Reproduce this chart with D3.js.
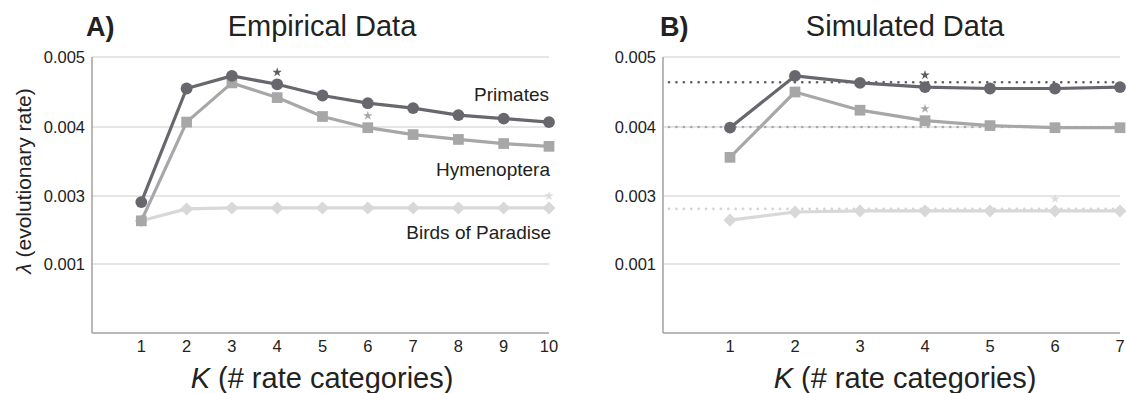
<!DOCTYPE html>
<html><head><meta charset="utf-8">
<script src="https://cdn.jsdelivr.net/npm/d3@7"></script>
<style>body{margin:0;background:#fff}text{font-family:"Liberation Sans",Arial,sans-serif;fill:#222}</style>
</head><body>
<script>
// ---- data ----
const yTickVals = [0.001, 0.003, 0.004, 0.005];
const yTickLabels = ["0.001", "0.003", "0.004", "0.005"];

const kA = [1,2,3,4,5,6,7,8,9,10];
const primatesA = [0.00282,0.00455,0.00473,0.00461,0.00445,0.00434,0.00427,0.00417,0.00412,0.00407];
const hymenA    = [0.00227,0.00407,0.00463,0.00442,0.00415,0.00399,0.00389,0.00382,0.00376,0.00372];
const birdsA    = [0.00227,0.00262,0.00265,0.00265,0.00265,0.00265,0.00265,0.00265,0.00265,0.00265];
const starsA = [{series:"primates",k:4},{series:"hymen",k:6},{series:"birds",k:10}];

const kB = [1,2,3,4,5,6,7];
const primatesB = [0.00399,0.00473,0.00463,0.00457,0.00455,0.00455,0.00457];
const hymenB    = [0.00356,0.00450,0.00424,0.00409,0.00402,0.00399,0.00399];
const birdsB    = [0.00229,0.00253,0.00256,0.00256,0.00256,0.00256,0.00256];
const refB = {primates:0.00464, hymen:0.00400, birds:0.00262};
const starsB = [{series:"primates",k:4},{series:"hymen",k:4},{series:"birds",k:6}];

const colors = {primates:"#67676d", hymen:"#a7a7a7", birds:"#d8d8d8"};
const starColors = {primates:"#5e5e64", hymen:"#a7a7a7", birds:"#dcdcdc"};

const W = 1126, H = 393;
const svg = d3.select("body").append("svg").attr("width", W).attr("height", H);

function panel(opt) {
  const g = svg.append("g");
  const x = d3.scaleLinear().domain([0, opt.kmax]).range([opt.x0, opt.x1]);
  const y = d3.scaleLinear().domain(yTickVals).range([264, 196, 127, 57]);
  const yBottom = 333;
  // gridlines
  g.selectAll(".grid").data(yTickVals).join("line")
    .attr("x1", opt.axisX).attr("x2", opt.x1)
    .attr("y1", d => y(d)).attr("y2", d => y(d))
    .attr("stroke", "#dcdcdc").attr("stroke-width", 1.3);
  // axes lines
  g.append("line").attr("x1", opt.axisX).attr("x2", opt.axisX).attr("y1", 57).attr("y2", yBottom)
    .attr("stroke", "#a0a0a0").attr("stroke-width", 1.5);
  g.append("line").attr("x1", opt.axisX).attr("x2", opt.x1).attr("y1", yBottom).attr("y2", yBottom)
    .attr("stroke", "#a0a0a0").attr("stroke-width", 1.5);
  // y tick labels
  g.selectAll(".yl").data(yTickVals).join("text")
    .attr("x", opt.axisX - 7).attr("y", d => y(d) + 6)
    .attr("text-anchor", "end").attr("font-size", 16.5).attr("fill", "#333")
    .text((d, i) => yTickLabels[i]);
  // x tick labels
  g.selectAll(".xl").data(opt.ks).join("text")
    .attr("x", d => x(d)).attr("y", 352)
    .attr("text-anchor", "middle").attr("font-size", 16.5).attr("fill", "#333")
    .text(d => d);
  // reference dotted lines
  if (opt.ref) {
    for (const key of ["birds", "hymen", "primates"]) {
      g.append("line").attr("x1", opt.axisX + 6).attr("x2", opt.x1)
        .attr("y1", y(opt.ref[key])).attr("y2", y(opt.ref[key]))
        .attr("stroke", key === "primates" ? "#5e5e64" : key === "hymen" ? "#a9a9a9" : "#d4d4d4")
        .attr("stroke-width", 2.6).attr("stroke-linecap", "round")
        .attr("stroke-dasharray", "0.1,7.3");
    }
  }
  const series = [["birds", opt.birds], ["hymen", opt.hymen], ["primates", opt.primates]];
  const line = d3.line().x((d, i) => x(opt.ks[i])).y(d => y(d));
  for (const [key, vals] of series) {
    g.append("path").datum(vals).attr("d", line)
      .attr("fill", "none").attr("stroke", colors[key]).attr("stroke-width", 3.2)
      .attr("stroke-linejoin", "round");
    const sym = key === "primates" ? d3.symbolCircle : d3.symbolSquare;
    const size = key === "primates" ? 110 : key === "hymen" ? 115 : 85;
    const rot = key === "birds" ? 45 : 0;
    g.selectAll(".m-" + key).data(vals).join("path")
      .attr("d", d3.symbol(sym, size))
      .attr("transform", (d, i) => `translate(${x(opt.ks[i])},${y(d)}) rotate(${rot})`)
      .attr("fill", colors[key]);
  }
  // stars
  const vmap = {primates: opt.primates, hymen: opt.hymen, birds: opt.birds};
  g.selectAll(".star").data(opt.stars).join("path")
    .attr("d", d3.symbol(d3.symbolStar, 28))
    .attr("transform", d => `translate(${x(d.k)},${y(vmap[d.series][opt.ks.indexOf(d.k)]) - 12})`)
    .attr("fill", d => starColors[d.series]);
  // titles
  g.append("text").attr("x", opt.letterX).attr("y", 36).attr("font-size", 27).attr("font-weight", "bold")
    .attr("fill", "#111").text(opt.letter);
  g.append("text").attr("x", opt.titleCX).attr("y", 36).attr("text-anchor", "middle").attr("font-size", 29)
    .attr("fill", "#111").text(opt.title);
  const xt = g.append("text").attr("x", opt.titleCX).attr("y", 388).attr("text-anchor", "middle")
    .attr("font-size", 29).attr("fill", "#111");
  xt.append("tspan").attr("font-style", "italic").text("K");
  xt.append("tspan").text(" (# rate categories)");
  return {g, x, y};
}

const A = panel({kmax: 10, x0: 96, x1: 549, axisX: 92, ks: kA,
  primates: primatesA, hymen: hymenA, birds: birdsA, stars: starsA,
  letter: "A)", letterX: 86, title: "Empirical Data", titleCX: 322});
// series labels in A
A.g.append("text").attr("x", 549).attr("y", 101).attr("text-anchor", "end").attr("font-size", 19).attr("fill", "#222").text("Primates");
A.g.append("text").attr("x", 550).attr("y", 176).attr("text-anchor", "end").attr("font-size", 19).attr("fill", "#222").text("Hymenoptera");
A.g.append("text").attr("x", 551).attr("y", 239).attr("text-anchor", "end").attr("font-size", 19).attr("fill", "#222").text("Birds of Paradise");

const B = panel({kmax: 7, x0: 665, x1: 1120, axisX: 663, ks: kB,
  primates: primatesB, hymen: hymenB, birds: birdsB, stars: starsB, ref: refB,
  letter: "B)", letterX: 660, title: "Simulated Data", titleCX: 905});

// y axis title
const yt = svg.append("text").attr("transform", "translate(31,181) rotate(-90)")
  .attr("text-anchor", "middle").attr("font-size", 21).attr("fill", "#111");
yt.append("tspan").attr("font-style", "italic").text("λ");
yt.append("tspan").text(" (evolutionary rate)");
</script>
</body></html>
